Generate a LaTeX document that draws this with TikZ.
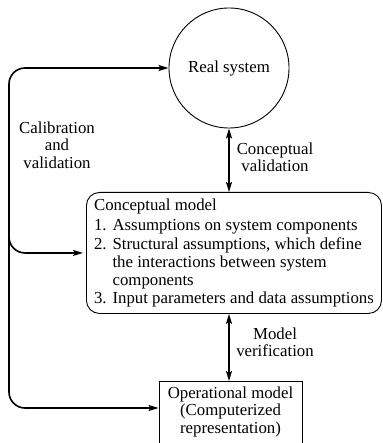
\documentclass[tikz,border=0pt]{standalone}
\usepackage{fontspec}
\setmainfont{Liberation Serif}
\usetikzlibrary{arrows.meta,calc}

\newcommand{\numitem}[1]{\makebox[18.5pt][l]{#1}}
\newcommand{\contline}{\hspace*{18.5pt}}

\begin{document}
\begin{tikzpicture}[x=1pt,y=-1pt,
	every node/.style={font=\fontsize{16.8}{17.5}\selectfont},
	flow/.style={line width=1.6pt, -{Stealth[length=10pt,width=6pt,inset=2pt]}, rounded corners=16pt},
	twoway/.style={line width=1.6pt, {Stealth[length=10pt,width=6pt,inset=2pt]}-{Stealth[length=10pt,width=6pt,inset=2pt]}},
	lbl/.style={align=center, inner sep=0pt},
	sysnode/.style={draw, line width=0.9pt, circle, minimum size=120pt, inner sep=0pt},
	conbox/.style={draw, line width=0.9pt, rounded corners=13pt, align=left,
		minimum width=295pt, minimum height=121pt,
		font=\fontsize{16.8}{18.25}\selectfont},
	opbox/.style={draw, line width=0.9pt, align=center, minimum width=143pt,
		inner ysep=5pt, text depth=45pt},
]

	% ---- frame

	\useasboundingbox (0,0) rectangle (382,443);
	\clip (0,0) rectangle (382,443);

	% ---- nodes

	\node[sysnode] (real) at (229,68) {Real system};

	\node[conbox, anchor=north west] (concept) at (86,192) {%
		Conceptual model\\[2.5pt]
		\numitem{1.}Assumptions on system components\\
		\numitem{2.}Structural assumptions, which define\\
		\contline the interactions between system\\
		\contline components\\
		\numitem{3.}Input parameters and data assumptions};

	\node[opbox, anchor=north] (opmodel) at (230.5,381)
		{Operational model\\(Computerized\\representation)};

	% ---- labels

	\node[lbl] (calib) at (57,145) {Calibration\\and\\validation};
	\node[lbl] (cval) at (275,157.5) {Conceptual\\validation};
	\node[lbl] (mver) at (275,342.5) {Model\\verification};

	% ---- calibration and validation loop

	\coordinate (spine) at (9,200);
	\coordinate (opin) at ($(opmodel.north west)+(0,27)$);

	\draw[flow] (spine) |- (real.west);
	\draw[flow, shorten >=3pt] (spine) |- (concept.west);
	\draw[flow] (spine) |- (opin);

	% ---- validation and verification

	\draw[twoway] (real.south) -- (real.south |- concept.north);
	\draw[twoway] (real.south |- concept.south) -- (real.south |- opmodel.north);

\end{tikzpicture}
\end{document}
